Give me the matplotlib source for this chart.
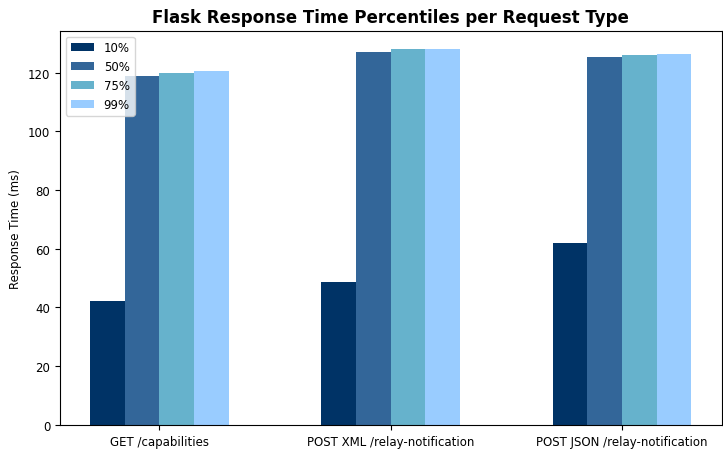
import matplotlib
matplotlib.use("Agg")
import matplotlib.pyplot as plt
import numpy as np

categories = ["GET /capabilities", "POST XML /relay-notification", "POST JSON /relay-notification"]
percentiles = ["10%", "50%", "75%", "99%"]
p10 = [42.3, 48.5, 62.1]
p50 = [118.9, 127.1, 125.4]
p75 = [119.8, 127.9, 125.9]
p99 = [120.4, 128.2, 126.3]
series = [p10, p50, p75, p99]
colors = ["#003366", "#336699", "#66b2cc", "#99ccff"]

fig, ax = plt.subplots(figsize=(7.23, 4.52), dpi=100)
x = np.arange(len(categories))
width = 0.15
for i, (vals, lab, c) in enumerate(zip(series, percentiles, colors)):
    ax.bar(x + (i - 1.5) * width, vals, width, label=lab, color=c)

fs = 8.5
ax.set_xticks(x)
ax.set_xticklabels(categories, fontsize=fs)
ax.tick_params(axis="y", labelsize=fs)
ax.set_ylabel("Response Time (ms)", fontsize=fs)
ax.set_title("Flask Response Time Percentiles per Request Type", fontsize=12, fontweight="bold")
ax.legend(loc="upper left", fontsize=fs)
ax.set_ylim(0, 134.3)
fig.subplots_adjust(left=0.083, right=0.998, top=0.93, bottom=0.058)
fig.savefig("out.png", dpi=100)
